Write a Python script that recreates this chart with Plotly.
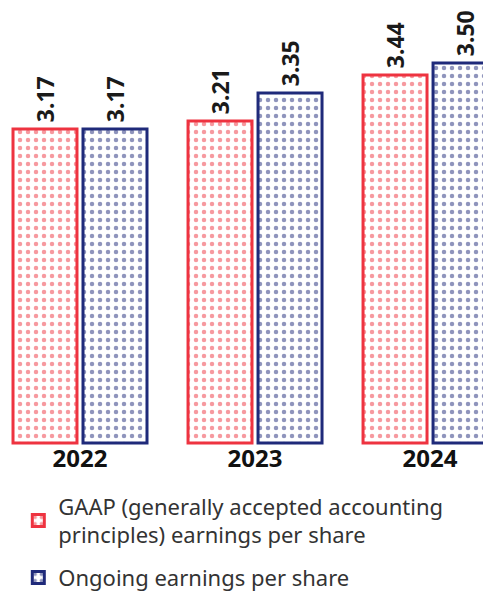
import plotly.graph_objects as go

years = ["2022", "2023", "2024"]
gaap_eps = [3.17, 3.21, 3.44]
ongoing_eps = [3.17, 3.35, 3.50]
series_names = ["GAAP (generally accepted accounting<br>principles) earnings per share",
                "Ongoing earnings per share"]

AXIS_FLOOR = 1.6
RED = "#ee3340"
NAVY = "#1f2a7a"

def bar(vals, name, color, group):
    return go.Bar(
        x=years,
        y=[v - AXIS_FLOOR for v in vals],
        base=[AXIS_FLOOR] * len(vals),
        name=name,
        legendgroup=group,
        text=["\u2009" + f"{v:.2f}" for v in vals],
        textposition="outside",
        textangle=-90,
        cliponaxis=False,
        constraintext="none",
        textfont=dict(family="Noto Sans", size=23, color="#1a1a1a", weight="bold"),
        marker=dict(
            color="white",
            line=dict(color=color, width=3),
            pattern=dict(shape=".", fgcolor=color, bgcolor="white", size=8, solidity=0.25),
        ),
    )

fig = go.Figure([bar(gaap_eps, series_names[0], RED, "a"),
                 bar(ongoing_eps, series_names[1], NAVY, "b")])

fig.update_layout(
    width=491, height=594,
    margin=dict(l=0, r=0, t=0, b=0, autoexpand=False),
    paper_bgcolor="white", plot_bgcolor="white",
    barmode="group", bargap=0.2, bargroupgap=0.086,
    showlegend=True,
    legend=dict(x=0.021, y=0.006, xanchor="left", yanchor="bottom",
                font=dict(family="Noto Sans", size=22, color="#333333"),
                tracegroupgap=11, bgcolor="rgba(0,0,0,0)"),
    xaxis=dict(range=[-0.4114, 2.394], showgrid=False, showline=False, zeroline=False,
               automargin=False, ticklabelstandoff=-4,
               tickfont=dict(family="Noto Sans", size=24, color="#111111", weight="bold")),
    yaxis=dict(domain=[156 / 594, 1], range=[1.585, 3.775], visible=False, automargin=False),
)

fig.write_html("out.html")
